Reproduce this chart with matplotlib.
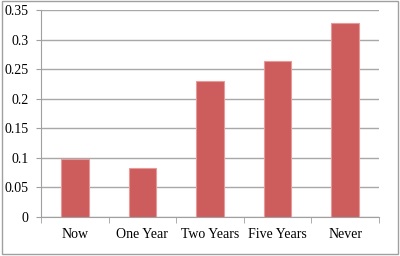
import matplotlib
matplotlib.use("Agg")
import matplotlib.pyplot as plt
import numpy as np
from matplotlib.patches import Rectangle

categories = ["Now", "One Year", "Two Years", "Five Years", "Never"]
values = [0.098, 0.083, 0.230, 0.263, 0.328]
yticks = [0, 0.05, 0.1, 0.15, 0.2, 0.25, 0.3, 0.35]
ylabels = ["0", "0.05", "0.1", "0.15", "0.2", "0.25", "0.3", "0.35"]

plt.rcParams['font.family'] = ['Liberation Serif', 'DejaVu Serif']

fig = plt.figure(figsize=(4.0, 2.56), dpi=100)
fig.patches.append(Rectangle((0.005, 0.006), 0.99, 0.99, transform=fig.transFigure,
                             fill=False, edgecolor='#a0a0a0', linewidth=1.0))
ax = fig.add_axes([41/400, 1 - 216.7/256, (379-41)/400, (216.7-10)/256])

x = np.arange(len(categories))
ax.bar(x, values, width=0.41, color='#cd5c5c', edgecolor='#e89a9a', linewidth=0.8, zorder=3)
ax.set_xlim(-0.5, len(categories) - 0.5)
ax.set_ylim(0, 0.35)
ax.set_yticks(yticks)
ax.set_yticklabels(ylabels, fontsize=10)
ax.set_xticks(x)
ax.set_xticklabels(categories, fontsize=10)
ax.tick_params(axis='x', length=0, pad=8)
ax.set_xticks(np.arange(-0.5, len(categories)), minor=True)
ax.tick_params(axis='x', which='minor', length=4, color='#a0a0a0', direction='out')
ax.tick_params(axis='y', length=3.6, color='#a0a0a0', pad=5.5)
ax.yaxis.grid(True, color='#a8a8a8', linewidth=1.0, zorder=0)
for s in ['top', 'right']:
    ax.spines[s].set_visible(False)
ax.spines['left'].set_color('#a0a0a0')
ax.spines['bottom'].set_color('#a0a0a0')
ax.set_axisbelow(True)

fig.savefig("out.png", dpi=100)
